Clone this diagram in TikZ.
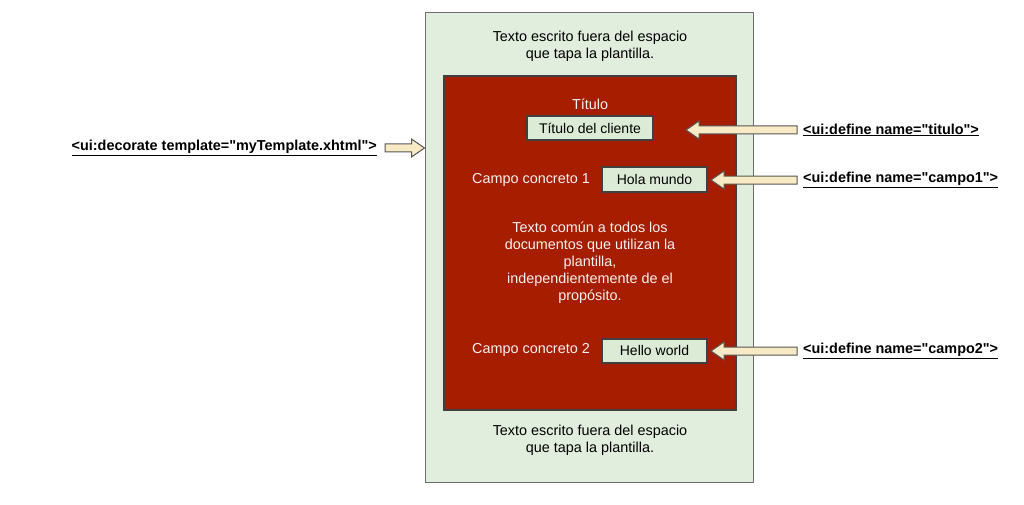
\documentclass[tikz,border=0pt]{standalone}
\usepackage{fontspec}
\setmainfont{Liberation Sans}[Ligatures=TeXOff]
\usetikzlibrary{calc}
\definecolor{outerfill}{HTML}{E1EEDD}
\definecolor{outerdraw}{HTML}{6E6E6E}
\definecolor{redfill}{HTML}{A61D00}
\definecolor{darkline}{HTML}{404040}
\definecolor{boxfill}{HTML}{DCEBD6}
\definecolor{arrowfill}{HTML}{F8EAC4}
\definecolor{arrowdraw}{HTML}{555555}
\definecolor{lighttext}{HTML}{F2F2F2}
\tikzset{
  txt/.style={font=\fontsize{14.4}{17}\selectfont, align=center, inner sep=0pt},
  wtxt/.style={txt, text=lighttext},
  valbox/.style={draw=darkline, line width=2pt, fill=boxfill, font=\fontsize{14}{17}\selectfont, inner sep=0pt, minimum height=24pt},
  code/.style={font=\bfseries\fontsize{14.4}{17}\selectfont, inner sep=0pt},
  barrow/.style={draw=arrowdraw, line width=1pt, fill=arrowfill, line join=miter}
}
\newcommand\blockarrow[3]{%
  \path[barrow] let \p1=(#1), \p2=(#2) in
    (\x1,\y1+4pt) -- (\x2-#3*13pt,\y1+4pt) -- (\x2-#3*13pt,\y1+9pt) -- (\x2,\y1)
    -- (\x2-#3*13pt,\y1-9pt) -- (\x2-#3*13pt,\y1-4pt) -- (\x1,\y1-4pt) -- cycle;}
\begin{document}
\begin{tikzpicture}[x=1pt,y=-1pt]
\useasboundingbox (0,0) rectangle (1024,505);
% containers
\node[draw=outerdraw, line width=1pt, fill=outerfill, minimum width=328pt, minimum height=469pt, inner sep=0pt] (outer) at (589,247.5) {};
\node[draw=darkline, line width=2pt, fill=redfill, minimum width=292pt, minimum height=334pt, inner sep=0pt] (red) at (590,243) {};
% texts outside
\node[txt] (toptxt) at (590,46) {Texto escrito fuera del espacio\\que tapa la plantilla.};
\node[txt] (bottxt) at (590,440) {Texto escrito fuera del espacio\\que tapa la plantilla.};
% inner content
\node[wtxt] (titulo) at (590,104) {Título};
\node[valbox, minimum width=126pt] (tbox) at (590,128.5) {Título del cliente};
\node[wtxt] (c1) at (531,180) {Campo concreto 1};
\node[valbox, minimum width=105pt] (hbox) at (654.5,179.5) {Hola mundo};
\node[wtxt] (mid) at (590,263) {Texto común a todos los\\documentos que utilizan la\\plantilla,\\independientemente de el\\propósito.};
\node[wtxt] (c2) at (531,350) {Campo concreto 2};
\node[valbox, minimum width=105pt] (wbox) at (654.5,350.5) {Hello world};
% code labels
\node[code, anchor=east] (dec) at (377,148) {\underline{<ui:decorate template="myTemplate.xhtml">}};
\node[code, anchor=west] (d1) at (803,130) {\underline{<ui:define name="titulo">}};
\node[code, anchor=west] (d2) at (803,180) {\underline{<ui:define name="campo1">}};
\node[code, anchor=west] (d3) at (803,351) {\underline{<ui:define name="campo2">}};
% arrow endpoints
\coordinate (a0s) at ($(dec.east)+(8,0)$);
\coordinate (a0e) at (outer.west |- a0s);
\coordinate (a1s) at ($(d1.west)+(-6,0)$);
\coordinate (a1e) at ($(tbox.east |- a1s)+(32,0)$);
\coordinate (a2s) at ($(d2.west)+(-6,0)$);
\coordinate (a2e) at ($(hbox.east |- a2s)+(3,0)$);
\coordinate (a3s) at ($(d3.west)+(-6,0)$);
\coordinate (a3e) at ($(wbox.east |- a3s)+(3,0)$);
\blockarrow{a0s}{a0e}{1}
\blockarrow{a1s}{a1e}{-1}
\blockarrow{a2s}{a2e}{-1}
\blockarrow{a3s}{a3e}{-1}
\end{tikzpicture}
\end{document}
